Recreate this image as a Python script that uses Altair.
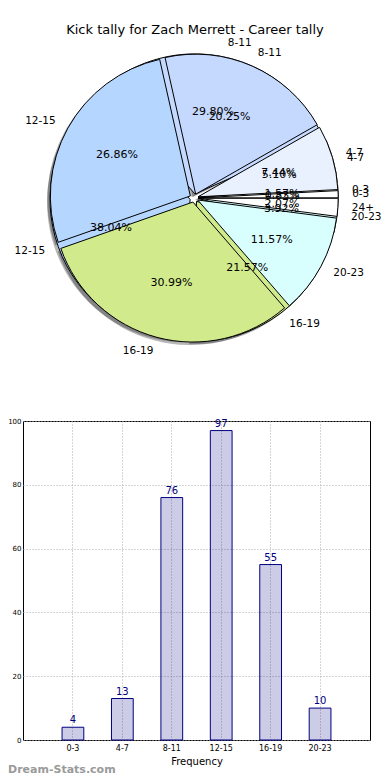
import math
import altair as alt
import pandas as pd

# ---------------- data ----------------
career_labels = ["0-3", "4-7", "8-11", "12-15", "16-19", "20-23"]
career_values = [4, 13, 76, 97, 55, 10]

season_labels = ["0-3", "4-7", "8-11", "12-15", "16-19", "20-23", "24+"]
season_values = [2, 18, 49, 65, 75, 28, 5]

cat_colors = {
    "0-3": "#ffffff",
    "4-7": "#eaf1fe",
    "8-11": "#c5d9fe",
    "12-15": "#b5d6fe",
    "16-19": "#d1ea8c",
    "20-23": "#d9fefe",
    "24+": "#ffffff",
}

bar_labels = career_labels
bar_values = career_values

title_text = "Kick tally for Zach Merrett - Career tally"

# ---------------- layout constants ----------------
FONT = "DejaVu Sans"
PAD_L = 15
W, H = 347, 319          # bar plot area
CX, CY = 195 - 8 - PAD_L - 1, -223   # pie centre relative to the bar plot area
R = 140
EXPL = 0.03

rows = []
for pie, labs, vals in (("career", career_labels, career_values),
                        ("season", season_labels, season_values)):
    for i, (l, v) in enumerate(zip(labs, vals)):
        rows.append({"pie": pie, "idx": i, "cat": l, "value": v,
                     "color": cat_colors[l]})
pie_df = pd.DataFrame(rows)

TWO_PI = 2 * math.pi
base = (
    alt.Chart(pie_df)
    .transform_joinaggregate(total="sum(value)", groupby=["pie"])
    .transform_window(cum="sum(value)", groupby=["pie"], sort=[alt.SortField("idx")],
                      frame=[None, 0])
    .transform_calculate(
        a0=f"{TWO_PI}*(datum.cum-datum.value)/datum.total",
        a1=f"{TWO_PI}*datum.cum/datum.total",
    )
    .transform_calculate(
        am="(datum.a0+datum.a1)/2",
        th=f"{math.pi/2}-datum.a1",
        th2=f"{math.pi/2}-datum.a0",
    )
    .transform_calculate(
        dx=f"{EXPL*R}*cos(datum.am)",
        dy=f"-{EXPL*R}*sin(datum.am)",
        pct="format(100*datum.value/datum.total, '.2f') + '%'",
    )
    .transform_calculate(
        lx=f"{CX}+datum.dx+{1.1*R}*cos(datum.am)",
        ly=f"{CY}+datum.dy-{1.1*R}*sin(datum.am)",
        px=f"{CX}+datum.dx+{0.6*R}*cos(datum.am)",
        py=f"{CY}+datum.dy-{0.6*R}*sin(datum.am)",
        sdx="datum.dx-3",
        sdy="datum.dy+3",
    )
)

shadow = base.mark_arc(radius=R, fill="#000000", opacity=0.28).encode(
    theta=alt.Theta("th:Q", scale=None),
    theta2="th2:Q",
    x=alt.value(CX), y=alt.value(CY),
    xOffset=alt.XOffset("sdx:Q", scale=None),
    yOffset=alt.YOffset("sdy:Q", scale=None),
)

def wedges(pie):
    return base.transform_filter(alt.datum.pie == pie).mark_arc(
        radius=R, stroke="#000000", strokeWidth=1
    ).encode(
        theta=alt.Theta("th:Q", scale=None),
        theta2="th2:Q",
        x=alt.value(CX), y=alt.value(CY),
        xOffset=alt.XOffset("dx:Q", scale=None),
        yOffset=alt.YOffset("dy:Q", scale=None),
        fill=alt.Fill("color:N", scale=None),
    )

lab_right = base.transform_filter("cos(datum.am) >= 0").mark_text(
    align="left", baseline="middle", font=FONT, fontSize=10.5, color="#000000"
).encode(x=alt.X("lx:Q", scale=None), y=alt.Y("ly:Q", scale=None), text="cat:N")

lab_left = base.transform_filter("cos(datum.am) < 0").mark_text(
    align="right", baseline="middle", font=FONT, fontSize=10.5, color="#000000"
).encode(x=alt.X("lx:Q", scale=None), y=alt.Y("ly:Q", scale=None), text="cat:N")

pct_text = base.mark_text(
    align="center", baseline="middle", font=FONT, fontSize=11, color="#000000"
).encode(x=alt.X("px:Q", scale=None), y=alt.Y("py:Q", scale=None), text="pct:N")

title_mark = alt.Chart(pd.DataFrame({"t": [title_text]})).mark_text(
    font=FONT, fontSize=13, color="#000000", align="center", baseline="middle"
).encode(x=alt.value(CX + 1), y=alt.value(-391), text="t:N")

# ---------------- bar chart ----------------
bar_df = pd.DataFrame({"cat": bar_labels, "value": bar_values})

xenc = alt.X(
    "cat:N", sort=bar_labels, title="Frequency",
    scale=alt.Scale(paddingInner=0.56, paddingOuter=0.79),
    axis=alt.Axis(labelAngle=0, labelFont=FONT, labelFontSize=8, labelColor="#000000",
                  titleFont=FONT, titleFontSize=10, titleFontWeight="normal",
                  titleColor="#000000", titlePadding=4, domain=False, ticks=False,
                  labelPadding=4, grid=True, gridDash=[1, 2], gridColor="#aaaaaa"),
)
yenc = alt.Y(
    "value:Q", title=None, scale=alt.Scale(domain=[0, 100], nice=False),
    axis=alt.Axis(values=[0, 20, 40, 60, 80, 100], labelFont=FONT, labelFontSize=7,
                  labelColor="#000000", domain=False, ticks=False, labelPadding=2,
                  grid=True, gridDash=[1, 2], gridColor="#aaaaaa"),
)

bars = alt.Chart(bar_df).mark_bar(
    fill="#000080", fillOpacity=0.2, stroke="#000080", strokeWidth=1
).encode(x=xenc, y=yenc)

bar_text = alt.Chart(bar_df).mark_text(
    font=FONT, fontSize=10, color="#000080", baseline="bottom", dy=-2
).encode(x=alt.X("cat:N", sort=bar_labels), y="value:Q", text="value:Q")

watermark = alt.Chart(pd.DataFrame({"t": ["Dream-Stats.com"]})).mark_text(
    font=FONT, fontSize=11, fontWeight="bold", color="#9a9a9a", align="left",
    baseline="middle"
).encode(x=alt.value(-PAD_L), y=alt.value(H + 30), text="t:N")

chart = alt.layer(
    bars, bar_text, watermark,
    shadow, wedges("career"), wedges("season"), pct_text, lab_right, lab_left,
    title_mark,
).properties(
    width=W, height=H,
    padding={"left": PAD_L, "top": 413, "right": 12, "bottom": 40},
    autosize=alt.AutoSizeParams(type="none"),
).configure_view(stroke="#000000", strokeWidth=1)

chart.save("out.html", embed_options={"renderer": "svg", "actions": False})
